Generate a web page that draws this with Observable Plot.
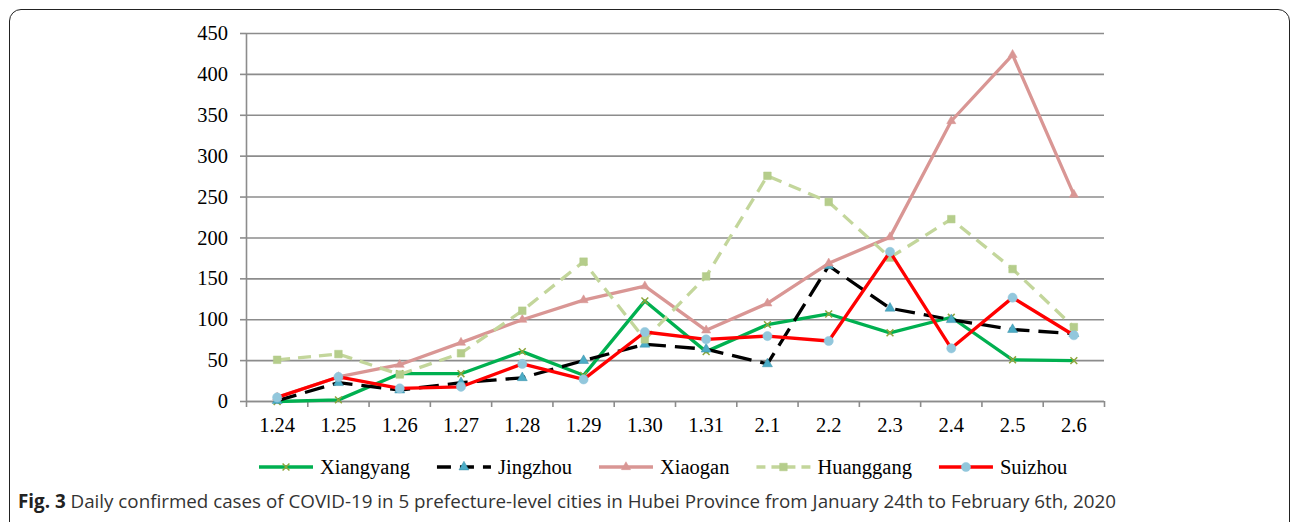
<!DOCTYPE html>
<html><head><meta charset="utf-8">
<script src="https://cdn.jsdelivr.net/npm/d3@7"></script>
<script src="https://cdn.jsdelivr.net/npm/@observablehq/plot@0.6"></script>
<style>
html,body{margin:0;padding:0;background:#fff}
body{width:1292px;height:522px;overflow:hidden;position:relative;font-family:"Liberation Serif",serif}
#frame{position:absolute;left:9px;top:9px;width:1281px;height:540px;border:1.5px solid #222;border-radius:12px;box-sizing:border-box}
#chart{position:absolute;left:0;top:0}
#legend{position:absolute;left:0;top:452px}
#caption{position:absolute;left:18px;top:488px;font-family:"Open Sans",sans-serif;font-size:18.8px;color:#333;white-space:nowrap}
#caption b{color:#222}
</style></head><body>
<div id="frame"></div>
<div id="chart"></div>
<svg id="legend" width="1292" height="30"></svg>
<div id="caption"><b>Fig. 3</b> Daily confirmed cases of COVID-19 in 5 prefecture-level cities in Hubei Province from January 24th to February 6th, 2020</div>
<script>
const dates = ["1.24","1.25","1.26","1.27","1.28","1.29","1.30","1.31","2.1","2.2","2.3","2.4","2.5","2.6"];
const cities = ["Xiangyang","Jingzhou","Xiaogan","Huanggang","Suizhou"];
const xiangyang = [0, 2, 34, 34, 61, 32, 123, 61, 94, 107, 84, 103, 51, 50];
const jingzhou  = [1, 23, 14, 23, 29, 50, 70, 64, 46, 166, 114, 100, 88, 83];
const xiaogan   = [5, 30, 45, 72, 100, 124, 141, 87, 120, 169, 201, 343, 424, 253];
const huanggang = [51, 58, 33, 59, 111, 171, 76, 153, 276, 244, 176, 223, 162, 91];
const suizhou   = [5, 30, 16, 18, 46, 27, 85, 76, 80, 74, 183, 65, 127, 81];
const yTicks = [0,50,100,150,200,250,300,350,400,450];

const valuesByCity = {Xiangyang: xiangyang, Jingzhou: jingzhou, Xiaogan: xiaogan, Huanggang: huanggang, Suizhou: suizhou};
const styles = {
  Xiangyang: {stroke:"#00b050", dash:null, ldash:null, symbol:"times", mfill:"none", mstroke:"#8ea53c", r:3.2},
  Jingzhou:  {stroke:"#000000", dash:"20,9", ldash:"14,9", symbol:"triangle", mfill:"#4bacc6", mstroke:"#3a8ea6", r:3.7},
  Xiaogan:   {stroke:"#d99694", dash:null, ldash:null, symbol:"triangle", mfill:"#d99694", mstroke:"#d99694", r:3.4},
  Huanggang: {stroke:"#c3d69b", dash:"13,8", ldash:"9,6", symbol:"square", mfill:"#b5cd8b", mstroke:"#b5cd8b", r:4.3},
  Suizhou:   {stroke:"#ff0000", dash:null, ldash:null, symbol:"circle", mfill:"#92c7dc", mstroke:"#92c7dc", r:4.6}
};

const rows = cities.flatMap(c => valuesByCity[c].map((v, i) => ({city: c, date: dates[i], i: i + 0.5, v})));

const grey = "#8c8c8c";
const marks = [
  Plot.gridY(yTicks, {stroke: grey, strokeOpacity: 1, strokeWidth: 1.6}),
  Plot.axisY({ticks: yTicks, tickSize: 6, tickPadding: 12.5, stroke: grey, strokeWidth: 1.6, fill: "#000", label: null}),
  Plot.axisX({ticks: d3.range(dates.length + 1), tickFormat: () => "", tickSize: 6, stroke: grey, strokeWidth: 1.6, label: null}),
  Plot.axisX({ticks: dates.map((d, i) => i + 0.5), tickFormat: t => dates[Math.round(t - 0.5)], tickSize: 0, tickPadding: 16, fill: "#000", label: null}),
  Plot.ruleX([0], {y1: 0, y2: 450, stroke: grey, strokeWidth: 1.6}),
  Plot.ruleY([0], {stroke: grey, strokeWidth: 1.6})
];
for (const c of cities) {
  const s = styles[c];
  const data = rows.filter(d => d.city === c);
  marks.push(Plot.line(data, {x: "i", y: "v", stroke: s.stroke, strokeWidth: 3.3, strokeDasharray: s.dash, strokeLinejoin: "round", strokeLinecap: "butt"}));
  marks.push(Plot.dot(data, {x: "i", y: "v", symbol: () => s.symbol, r: s.r, fill: s.mfill, stroke: s.mstroke, strokeWidth: s.symbol === "times" ? 1.5 : 0.5}));
}

const chart = Plot.plot({
  width: 1292, height: 450,
  marginLeft: 246, marginRight: 188, marginTop: 33, marginBottom: 49,
  x: {type: "linear", domain: [0, dates.length], axis: null, label: null},
  y: {domain: [0, 450], axis: null, label: null},
  symbol: {type: "identity"},
  style: {fontFamily: "Liberation Serif, serif", fontSize: "20.5px", background: "transparent", overflow: "visible"},
  marks
});
document.getElementById("chart").append(chart);

// legend
const lg = d3.select("#legend");
let x = 259;
const cy = 15;
const symMap = {times: d3.symbolTimes, triangle: d3.symbolTriangle, square: d3.symbolSquare, circle: d3.symbolCircle};
for (const c of cities) {
  const s = styles[c];
  const g = lg.append("g");
  g.append("line").attr("x1", x).attr("x2", x + 54).attr("y1", cy).attr("y2", cy)
    .attr("stroke", s.stroke).attr("stroke-width", 3.3).attr("stroke-dasharray", s.ldash);
  const area = Math.PI * s.r * s.r;
  g.append("path").attr("d", d3.symbol(symMap[s.symbol], area)()).attr("transform", `translate(${x + 27},${cy})`)
    .attr("fill", s.mfill).attr("stroke", s.mstroke).attr("stroke-width", s.symbol === "times" ? 1.5 : 0.5);
  const t = g.append("text").attr("x", x + 61).attr("y", cy + 7).attr("font-family", "Liberation Serif, serif").attr("font-size", 20.5).text(c);
  x = x + 61 + t.node().getComputedTextLength() + 27;
}
</script>
</body></html>
